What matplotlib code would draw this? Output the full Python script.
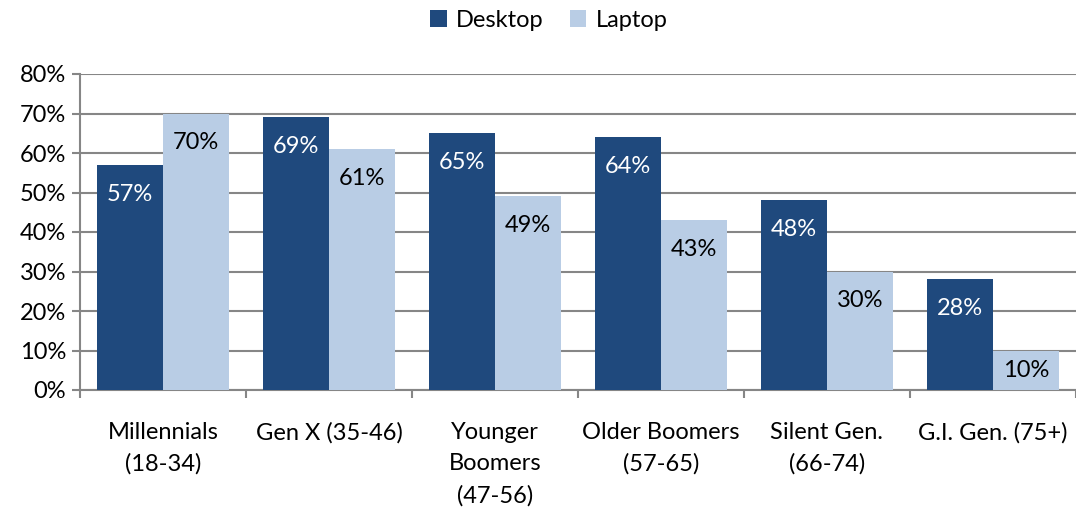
import matplotlib
matplotlib.use("Agg")
import matplotlib.pyplot as plt
import numpy as np
from matplotlib.ticker import FixedLocator, PercentFormatter

plt.rcParams['font.family'] = ['Lato', 'DejaVu Sans']

categories = ["Millennials\n(18-34)", "Gen X (35-46)", "Younger\nBoomers\n(47-56)",
              "Older Boomers\n(57-65)", "Silent Gen.\n(66-74)", "G.I. Gen. (75+)"]
desktop = [57, 69, 65, 64, 48, 28]
laptop = [70, 61, 49, 43, 30, 10]
series_names = ["Desktop", "Laptop"]
colors = ["#1F497D", "#B9CDE5"]
label_colors = ["white", "black"]

FS = 17
LABEL_DROP = 7.4  # label distance below bar top, in axis units

fig = plt.figure(figsize=(10.76, 5.12), dpi=100)
ax = fig.add_axes([80/1076, 122/512, 996/1076, 316/512])

x = np.arange(len(categories))
w = 0.4
grid_c = "#868686"
for vals, off, c, lc, name in zip([desktop, laptop], [-w/2, w/2], colors, label_colors, series_names):
    bars = ax.bar(x + off, vals, width=w, color=c, label=name, zorder=3)
    for b, v in zip(bars, vals):
        ax.text(b.get_x() + b.get_width()/2, max(v - LABEL_DROP, v / 2), f"{v}%",
                ha="center", va="center", color=lc, fontsize=FS, zorder=4)

ax.set_xlim(-0.5, len(categories) - 0.5)
ax.set_ylim(0, 80)
ax.set_yticks(np.arange(0, 81, 10))
ax.yaxis.set_major_formatter(PercentFormatter(decimals=0))
ax.yaxis.grid(True, color=grid_c, linewidth=1.5, zorder=0)
ax.set_axisbelow(True)

ax.set_xticks(x)
ax.set_xticklabels(categories, fontsize=FS, linespacing=1.6, va="top")
ax.xaxis.set_minor_locator(FixedLocator(np.arange(-0.5, len(categories), 1.0)))
ax.tick_params(axis="x", which="major", length=0, pad=23)
ax.tick_params(axis="x", which="minor", length=6, width=1.5, color=grid_c, direction="out")
ax.tick_params(axis="y", length=6, width=1.5, color=grid_c, labelsize=FS, pad=4)

for s in ["top", "right"]:
    ax.spines[s].set_visible(False)
for s in ["left", "bottom"]:
    ax.spines[s].set_color(grid_c)
    ax.spines[s].set_linewidth(1.5)

fig.legend(loc="center", bbox_to_anchor=(0.51, 0.96), ncol=2, frameon=False,
           fontsize=FS, handlelength=0.7, handleheight=0.7, handletextpad=0.4,
           columnspacing=1.1)

fig.savefig("out.png", dpi=100)
